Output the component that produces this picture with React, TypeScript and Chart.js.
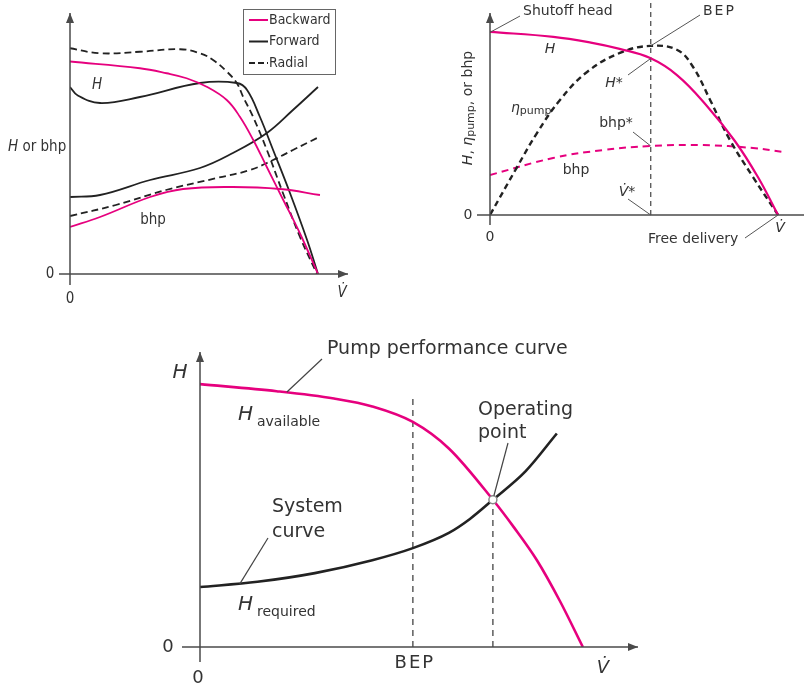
import React, { useEffect, useRef } from "react";
import { Chart, registerables } from "chart.js";
Chart.register(...registerables);

// ---------- Chart 1: impeller types (x: % of free delivery, y: relative H / bhp)
const backwardHead = [[0, 85], [28.2, 82.3], [39, 80.3], [47, 78.3], [55.1, 74.9], [63.2, 69.6], [68.5, 62.9], [73.9, 53.6], [79.3, 42.9], [86, 29.6], [92.7, 16.3], [100, 0]];
const forwardHead = [[0, 74.8], [3, 71.5], [12.1, 68.4], [28.2, 70.8], [52.4, 76.4], [67.3, 76.4], [71.4, 73.6], [76.6, 62.8], [81.9, 49.6], [88.7, 32.4], [95.6, 13.6], [100, 0]];
const radialHead = [[0, 90.3], [12.1, 88.3], [28.2, 88.9], [44.4, 89.9], [52.4, 88.3], [57.7, 85.6], [63.3, 80.9], [67.3, 76.3], [69.8, 70.9], [73.8, 62.9], [79.4, 49.6], [85.9, 32.3], [92.7, 14.9], [99.6, 0]];
const backwardBhp = [[0, 18.8], [12.1, 22.8], [32.3, 30.8], [45.6, 34], [65.7, 34.8], [84.7, 34], [100.8, 31.6]];
const forwardBhp = [[0, 30.8], [12.1, 31.6], [32.3, 37.6], [52.4, 42.4], [65.7, 48.4], [79.4, 56.4], [89.9, 65.6], [100, 74.8]];
const radialBhp = [[0, 23.2], [18.5, 27.6], [38.7, 33.6], [59.3, 38.4], [72.6, 41.6], [81.9, 45.6], [89.9, 49.6], [99.6, 54.4]];
const legendLabels = ["Backward", "Forward", "Radial"];

// ---------- Chart 2: pump performance (x: % of free delivery, y: % of shutoff head)
const pumpHead = [[0, 99], [22, 96.3], [35, 93.2], [45, 89.8], [55.6, 84.8], [65, 75.5], [75, 59.5], [85, 40], [93, 20.5], [100, 0]];
const pumpEfficiency = [[0, 0], [9.4, 25.9], [16.3, 44.3], [24.3, 62.2], [33.7, 77.3], [45.1, 87.6], [55.6, 91.4], [65, 89.2], [70.5, 80], [76.4, 62.2], [83.3, 40.5], [91.3, 20.5], [100, 0]];
const pumpBhp = [[0, 21.6], [21.9, 30.8], [39.2, 35.1], [55.6, 37.3], [74, 37.8], [91.3, 36.2], [101.7, 34.1]];
const bepFlow2 = 55.8;
const bepHead2 = 84.6;
const bepEff2 = 91.4;
const bepBhp2 = 37.3;

// ---------- Chart 3: operating point
const performanceCurve = [[0, 100], [20, 97.3], [35, 94.5], [45, 91.5], [55.6, 85.6], [65, 75.5], [76.5, 56], [82, 45.5], [88, 33], [94, 17.5], [100, 0]];
const systemCurve = [[0, 22.8], [15, 24.8], [30, 28.1], [45, 33], [55.6, 37.6], [65, 43.4], [70.5, 48.7], [76.5, 56], [85, 66.8], [93.2, 81.2]];
const bepFlow3 = 55.6;
const bepTop3 = 95;
const operatingPoint = [76.5, 56];

const PINK = "#e6007e";
const DARK = "#222";
const AX = "#4a4a4a";
const TXT = "#333";
const F1 = '"DejaVu Sans Condensed", "Liberation Sans Narrow", "DejaVu Sans", sans-serif';
const F2 = '"DejaVu Sans", sans-serif';

const pts = (a: number[][]) => a.map(([x, y]) => ({ x, y }));

function curve(data: number[][], color: string, width: number, dash: number[] = [], tension = 0.4) {
  return {
    data: pts(data),
    borderColor: color,
    borderWidth: width,
    borderDash: dash,
    tension,
    pointRadius: 0,
    fill: false,
  };
}

function smooth(data: number[][], color: string, width: number, dash: number[] = []) {
  return { ...curve(data, color, width, dash), cubicInterpolationMode: "monotone" };
}

function baseOptions(pad: any, xmax: number, ymax: number) {
  return {
    responsive: false,
    animation: false,
    devicePixelRatio: 1,
    events: [],
    layout: { padding: pad },
    plugins: { legend: { display: false }, tooltip: { enabled: false }, title: { display: false } },
    scales: {
      x: { type: "linear", min: 0, max: xmax, display: false },
      y: { type: "linear", min: 0, max: ymax, display: false },
    },
  };
}

function axis(ctx: CanvasRenderingContext2D, x1: number, y1: number, x2: number, y2: number, arrow = true) {
  ctx.save();
  ctx.strokeStyle = AX;
  ctx.fillStyle = AX;
  ctx.lineWidth = 1.5;
  ctx.setLineDash([]);
  ctx.beginPath();
  ctx.moveTo(x1, y1);
  ctx.lineTo(x2, y2);
  ctx.stroke();
  if (arrow) {
    const a = Math.atan2(y2 - y1, x2 - x1);
    const L = 10, W = 4;
    ctx.beginPath();
    ctx.moveTo(x2, y2);
    ctx.lineTo(x2 - L * Math.cos(a) + W * Math.sin(a), y2 - L * Math.sin(a) - W * Math.cos(a));
    ctx.lineTo(x2 - L * Math.cos(a) - W * Math.sin(a), y2 - L * Math.sin(a) + W * Math.cos(a));
    ctx.closePath();
    ctx.fill();
  }
  ctx.restore();
}

function seg(ctx: CanvasRenderingContext2D, x1: number, y1: number, x2: number, y2: number, color = "#555", w = 1, dash: number[] = []) {
  ctx.save();
  ctx.strokeStyle = color;
  ctx.lineWidth = w;
  ctx.setLineDash(dash);
  ctx.beginPath();
  ctx.moveTo(x1, y1);
  ctx.lineTo(x2, y2);
  ctx.stroke();
  ctx.restore();
}

type Run = { t: string; f: string; dy?: number };
function runs(ctx: CanvasRenderingContext2D, list: Run[], x: number, y: number, align: "left" | "center" = "left", color = TXT, spacing = "0px") {
  ctx.save();
  ctx.textBaseline = "middle";
  ctx.textAlign = "left";
  ctx.fillStyle = color;
  (ctx as any).letterSpacing = spacing;
  let total = 0;
  const ws = list.map((r) => {
    ctx.font = r.f;
    const w = ctx.measureText(r.t).width;
    total += w;
    return w;
  });
  let cx = align === "center" ? x - total / 2 : x;
  list.forEach((r, i) => {
    ctx.font = r.f;
    ctx.fillText(r.t, cx, y + (r.dy || 0));
    cx += ws[i];
  });
  ctx.restore();
}

// ---------- overlays
const overlay1 = {
  id: "overlay1",
  afterDatasetsDraw(chart: any) {
    const ctx: CanvasRenderingContext2D = chart.ctx;
    const xs = chart.scales.x, ys = chart.scales.y, ca = chart.chartArea;
    const x0 = xs.getPixelForValue(0), y0 = ys.getPixelForValue(0);
    axis(ctx, x0 - 11, y0, ca.right, y0);
    axis(ctx, x0, y0 + 11, x0, ca.top);
    const n = `15px ${F1}`, it = `italic 15px ${F1}`, lg = `14px ${F1}`;
    runs(ctx, [{ t: "0", f: n }], x0 - 20, y0, "center");
    runs(ctx, [{ t: "0", f: n }], x0, y0 + 25, "center");
    runs(ctx, [{ t: "V\u0307", f: it }], ca.right - 6, y0 + 19, "center");
    runs(ctx, [{ t: "H", f: it }, { t: " or bhp", f: n }], 8, 147);
    runs(ctx, [{ t: "H", f: it }], 97, 85, "center");
    runs(ctx, [{ t: "bhp", f: n }], 153, 220, "center");
    // legend
    ctx.save();
    ctx.strokeStyle = "#666";
    ctx.lineWidth = 1;
    ctx.strokeRect(243.5, 9.5, 92, 65);
    ctx.restore();
    const cols = [PINK, DARK, DARK];
    const dashes = [[], [], [6, 3]];
    legendLabels.forEach((lab, i) => {
      const yy = 20 + i * 21.5;
      seg(ctx, 249, yy, 268, yy, cols[i], 2, dashes[i]);
      runs(ctx, [{ t: lab, f: lg }], 269, yy);
    });
  },
};

const overlay2 = {
  id: "overlay2",
  afterDatasetsDraw(chart: any) {
    const ctx: CanvasRenderingContext2D = chart.ctx;
    const xs = chart.scales.x, ys = chart.scales.y, ca = chart.chartArea;
    const x0 = xs.getPixelForValue(0), y0 = ys.getPixelForValue(0);
    axis(ctx, x0 - 13, y0, ca.right, y0, false);
    axis(ctx, x0, y0 + 10, x0, 13);
    const n = `14px ${F2}`, it = `italic 14px ${F2}`, sub = `11px ${F2}`;
    runs(ctx, [{ t: "0", f: n }], x0 - 22, y0, "center");
    runs(ctx, [{ t: "0", f: n }], x0, y0 + 22, "center");
    runs(ctx, [{ t: "V\u0307", f: it }], xs.getPixelForValue(100) + 2, y0 + 13, "center");
    // Shutoff head
    const sx = xs.getPixelForValue(0), sy = ys.getPixelForValue(pumpHead[0][1]);
    seg(ctx, sx + 1, sy, sx + 30, 16);
    runs(ctx, [{ t: "Shutoff head", f: n }], 523, 11);
    // BEP
    const bx = xs.getPixelForValue(bepFlow2);
    seg(ctx, bx, ys.getPixelForValue(bepEff2), 700, 15);
    runs(ctx, [{ t: "BEP", f: n }], 703, 11, "left", TXT, "2px");
    runs(ctx, [{ t: "H", f: it }], 550, 49, "center");
    seg(ctx, bx, ys.getPixelForValue(bepHead2), 628, 75);
    runs(ctx, [{ t: "H", f: it }, { t: "*", f: n }], 614, 83, "center");
    runs(ctx, [{ t: "\u03b7", f: it }, { t: "pump", f: sub, dy: 3 }], 511, 108);
    seg(ctx, bx, ys.getPixelForValue(bepBhp2), 633, 132);
    runs(ctx, [{ t: "bhp*", f: n }], 616, 123, "center");
    runs(ctx, [{ t: "bhp", f: n }], 576, 170, "center");
    seg(ctx, bx, y0, 628, 199);
    runs(ctx, [{ t: "V\u0307", f: it }, { t: "*", f: n }], 627, 192, "center");
    // Free delivery
    seg(ctx, xs.getPixelForValue(100), y0, 745, 238);
    runs(ctx, [{ t: "Free delivery", f: n }], 648, 239);
    // rotated y label
    ctx.save();
    ctx.translate(468, 108);
    ctx.rotate(-Math.PI / 2);
    runs(ctx, [
      { t: "H", f: it },
      { t: ", ", f: n },
      { t: "\u03b7", f: it },
      { t: "pump", f: sub, dy: 3 },
      { t: ", or bhp", f: n },
    ], 0, 0, "center");
    ctx.restore();
  },
};

const overlay3 = {
  id: "overlay3",
  afterDatasetsDraw(chart: any) {
    const ctx: CanvasRenderingContext2D = chart.ctx;
    const xs = chart.scales.x, ys = chart.scales.y, ca = chart.chartArea;
    const x0 = xs.getPixelForValue(0), y0 = ys.getPixelForValue(0);
    axis(ctx, x0 - 18, y0, ca.right, y0);
    axis(ctx, x0, y0 + 15, x0, ca.top);
    const big = `19px ${F2}`, bigIt = `italic 20px ${F2}`, sub = `14px ${F2}`;
    const lab = `18px ${F2}`;
    runs(ctx, [{ t: "0", f: lab }], x0 - 32, y0, "center");
    runs(ctx, [{ t: "0", f: lab }], x0 - 2, y0 + 31, "center");
    runs(ctx, [{ t: "H", f: bigIt }], 180, 373, "center");
    runs(ctx, [{ t: "BEP", f: lab }], xs.getPixelForValue(bepFlow3) + 2, y0 + 16, "center", TXT, "2px");
    runs(ctx, [{ t: "V\u0307", f: `italic 18px ${F2}` }], 603, 668, "center");
    // Pump performance curve
    const px = xs.getPixelForValue(22.7), py = ys.getPixelForValue(97);
    seg(ctx, px, py, 322, 359, "#444", 1.2);
    runs(ctx, [{ t: "Pump performance curve", f: big }], 327, 349);
    runs(ctx, [{ t: "H", f: bigIt }], 238, 415);
    runs(ctx, [{ t: "available", f: sub }], 257, 422);
    // Operating point
    const ox = xs.getPixelForValue(operatingPoint[0]), oy = ys.getPixelForValue(operatingPoint[1]);
    seg(ctx, ox + 1, oy - 4, 508, 443, "#444", 1.2);
    runs(ctx, [{ t: "Operating", f: big }], 478, 410);
    runs(ctx, [{ t: "point", f: big }], 478, 433);
    // System curve
    const qx = xs.getPixelForValue(10.4), qy = ys.getPixelForValue(24);
    seg(ctx, qx, qy, 268, 538, "#444", 1.2);
    runs(ctx, [{ t: "System", f: big }], 272, 507);
    runs(ctx, [{ t: "curve", f: big }], 272, 532);
    runs(ctx, [{ t: "H", f: bigIt }], 238, 605);
    runs(ctx, [{ t: "required", f: sub }], 257, 612);
  },
};

function config1(): any {
  return {
    type: "line",
    data: {
      datasets: [
        curve(backwardHead, PINK, 1.8),
        curve(backwardBhp, PINK, 1.8),
        curve(forwardHead, DARK, 1.8),
        curve(forwardBhp, DARK, 1.8),
        curve(radialHead, DARK, 1.8, [7, 4]),
        curve(radialBhp, DARK, 1.8, [7, 4]),
      ],
    },
    options: baseOptions({ left: 70, right: 804 - 348, top: 13, bottom: 688 - 274 }, 112.1, 104.4),
    plugins: [overlay1],
  };
}

function config2(): any {
  return {
    type: "line",
    data: {
      datasets: [
        curve(pumpHead, PINK, 2.2),
        curve(pumpEfficiency, DARK, 2.4, [6, 4]),
        curve(pumpBhp, PINK, 2, [7, 5]),
        curve([[bepFlow2, 0], [bepFlow2, 116]], "#444", 1.2, [5, 4], 0),
      ],
    },
    options: baseOptions({ left: 490, right: 0, top: 0, bottom: 688 - 215 }, 109.0, 116.2),
    plugins: [overlay2],
  };
}

function config3(): any {
  return {
    type: "line",
    data: {
      datasets: [
        {
          data: [{ x: operatingPoint[0], y: operatingPoint[1] }],
          showLine: false,
          pointRadius: 4,
          pointBackgroundColor: "#fff",
          pointBorderColor: "#888",
          pointBorderWidth: 1.5,
        },
        smooth(performanceCurve, PINK, 2.6),
        smooth(systemCurve, DARK, 2.6),
        curve([[bepFlow3, 0], [bepFlow3, bepTop3]], "#444", 1.3, [6, 5], 0),
        curve([[operatingPoint[0], 0], [operatingPoint[0], operatingPoint[1]]], "#444", 1.3, [6, 5], 0),
      ],
    },
    options: baseOptions({ left: 200, right: 804 - 638, top: 352, bottom: 688 - 647 }, 114.4, 112.2),
    plugins: [overlay3],
  };
}

export default function App() {
  const r1 = useRef<HTMLCanvasElement>(null);
  const r2 = useRef<HTMLCanvasElement>(null);
  const r3 = useRef<HTMLCanvasElement>(null);
  useEffect(() => {
    const charts = [
      new Chart(r1.current as HTMLCanvasElement, config1()),
      new Chart(r2.current as HTMLCanvasElement, config2()),
      new Chart(r3.current as HTMLCanvasElement, config3()),
    ];
    return () => charts.forEach((c) => c.destroy());
  }, []);
  const cs: React.CSSProperties = { position: "absolute", left: 0, top: 0, width: 804, height: 688 };
  return (
    <div style={{ position: "absolute", left: 0, top: 0, width: 804, height: 688, background: "#fff", overflow: "hidden" }}>
      <canvas ref={r1} width={804} height={688} style={cs} />
      <canvas ref={r2} width={804} height={688} style={cs} />
      <canvas ref={r3} width={804} height={688} style={cs} />
    </div>
  );
}
